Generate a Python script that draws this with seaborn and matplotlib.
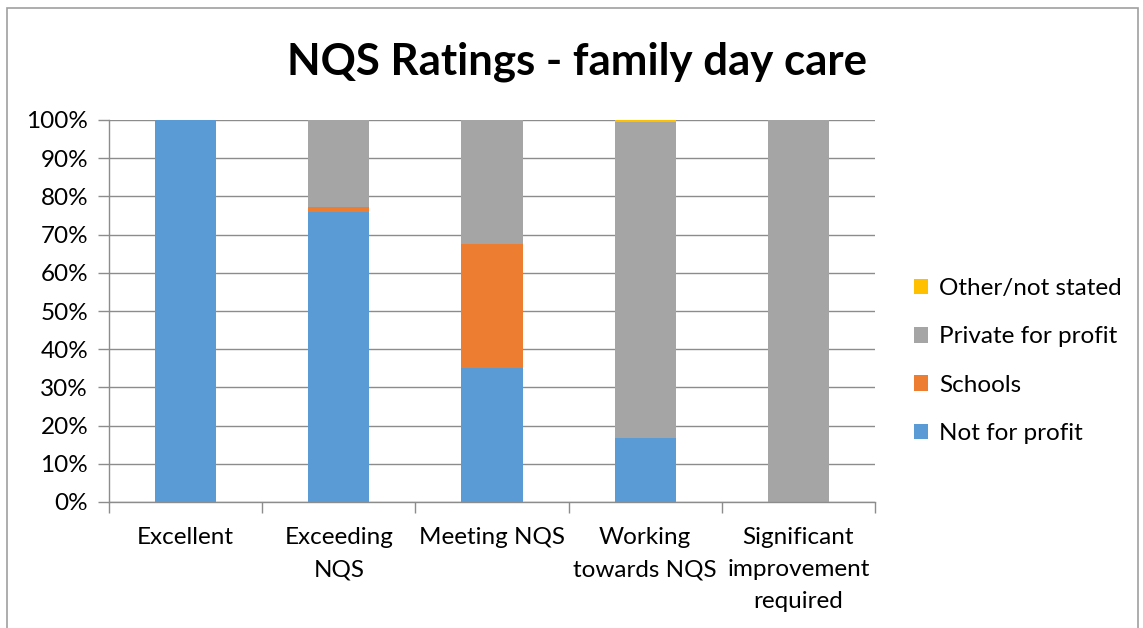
import numpy as np
import pandas as pd
import matplotlib
matplotlib.use("Agg")
import matplotlib.pyplot as plt
import seaborn as sns
from matplotlib.patches import Rectangle, Patch
from matplotlib.ticker import FixedLocator, PercentFormatter

# 数据（从图上读取的百分比）
categories = ["Excellent", "Exceeding\nNQS", "Meeting NQS",
              "Working\ntowards NQS", "Significant\nimprovement\nrequired"]
not_for_profit = [100, 76.0, 35.0, 16.7, 0]
schools = [0, 1.1, 32.5, 0, 0]
private_for_profit = [0, 22.9, 32.5, 82.9, 100]
other_not_stated = [0, 0, 0, 0.4, 0]

series_names = ["Not for profit", "Schools", "Private for profit", "Other/not stated"]
colors = ["#5B9BD5", "#ED7D31", "#A5A5A5", "#FFC000"]

df = pd.DataFrame({
    "category": categories,
    "Not for profit": not_for_profit,
    "Schools": schools,
    "Private for profit": private_for_profit,
    "Other/not stated": other_not_stated,
})

sns.set_theme(style="white")
plt.rcParams["font.family"] = ["Lato", "DejaVu Sans"]
plt.rcParams["text.color"] = "black"

fig = plt.figure(figsize=(11.43, 6.28), dpi=100)
ax = fig.add_axes([109 / 1143, 1 - 502 / 628, 766 / 1143, 382 / 628])

# 堆叠：先画累计最高的，再往下盖
cum = df[series_names].cumsum(axis=1)
for name, col in reversed(list(zip(series_names, colors))):
    sns.barplot(x=df["category"], y=cum[name], color=col, width=0.4,
                saturation=1, linewidth=0, ax=ax, zorder=2)

ax.set_xlim(-0.5, 4.5)
ax.set_ylim(0, 100)
ax.yaxis.set_major_locator(FixedLocator(np.arange(0, 101, 10)))
ax.yaxis.set_major_formatter(PercentFormatter(decimals=0))
ax.grid(axis="y", color="#8C8C8C", linewidth=1, zorder=0)
ax.set_axisbelow(True)
ax.set_xlabel("")
ax.set_ylabel("")

for s in ["top", "right"]:
    ax.spines[s].set_visible(False)
ax.spines["left"].set_color("#8C8C8C")
ax.spines["bottom"].set_color("#8C8C8C")
ax.spines["left"].set_linewidth(1)
ax.spines["bottom"].set_linewidth(1)

ax.tick_params(axis="y", length=8, color="#8C8C8C", width=1, labelsize=17.5,
               pad=7, labelcolor="black", left=True)
ax.tick_params(axis="x", which="major", length=0, labelsize=17.5, pad=18,
               labelcolor="black")
ax.xaxis.set_minor_locator(FixedLocator(np.arange(-0.5, 5, 1)))
ax.tick_params(axis="x", which="minor", length=8, color="#8C8C8C", width=1,
               bottom=True)
for lab in ax.get_xticklabels():
    lab.set_linespacing(1.66)
    lab.set_verticalalignment("top")

fig.text(577 / 1143, 1 - 62 / 628, "NQS Ratings - family day care",
         ha="center", va="center", fontsize=31.5, fontweight="bold",
         color="black")

handles = [Patch(facecolor=c, edgecolor="none") for c in colors]
leg = fig.legend(handles[::-1], series_names[::-1], loc="center left",
                 bbox_to_anchor=(892 / 1143, 1 - 361 / 628), frameon=False,
                 fontsize=17.5, handlelength=0.6, handleheight=0.6,
                 handletextpad=0.45, labelspacing=1.12)

# 外框
fig.patches.append(Rectangle((7 / 1143, -0.1), 1131 / 1143, 1.1 - 8 / 628,
                             transform=fig.transFigure, fill=False,
                             edgecolor="#A0A0A0", linewidth=1.2))

fig.savefig("out.png", dpi=100)
